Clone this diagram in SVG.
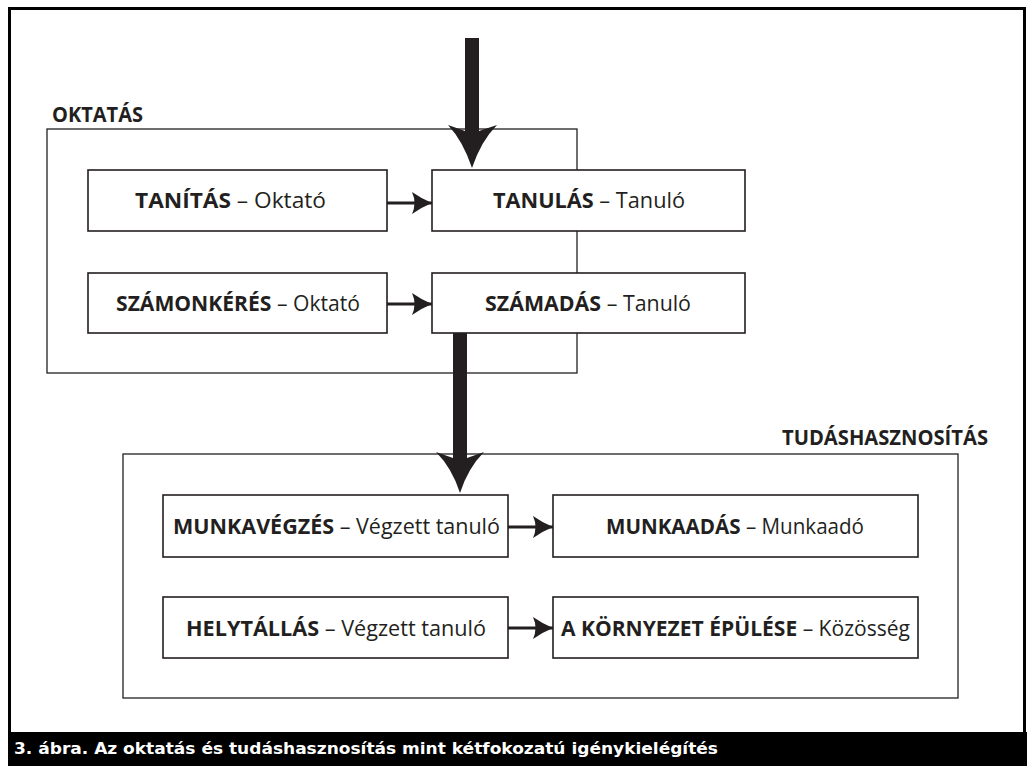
<svg xmlns="http://www.w3.org/2000/svg" width="1027" height="766" viewBox="0 0 1027 766">
<defs>
<style>
.frame{fill:none;stroke:#000;stroke-width:3}
.group{fill:none;stroke:#231f20;stroke-width:1.3}
.box{fill:#fff;stroke:#231f20;stroke-width:1.6}
.lbl{font-family:"Open Sans","Liberation Sans",sans-serif;font-size:21px;fill:#231f20}
.b{font-weight:bold}
.title{font-family:"Open Sans","Liberation Sans",sans-serif;font-size:22px;font-weight:bold;fill:#231f20}
.cap{font-family:"DejaVu Sans Condensed","DejaVu Sans",sans-serif;font-size:16px;font-weight:bold;fill:#fff}
.conn{stroke:#231f20;stroke-width:3;fill:none}
.big{fill:#231f20;stroke:none}
</style>
<marker id="ah" markerUnits="userSpaceOnUse" markerWidth="22" markerHeight="22" refX="20" refY="11" orient="auto" viewBox="0 0 22 22">
<path d="M0,0 Q10,7 20,11 Q10,15 0,22 Q5,11 0,0 Z" fill="#231f20"/>
</marker>
</defs>
<rect x="0" y="0" width="1027" height="766" fill="#fff"/>
<rect class="frame" x="9.5" y="8.5" width="1015" height="730"/>
<rect x="8" y="732" width="1019" height="34" fill="#000"/>
<text class="cap" x="14" y="754" textLength="704" lengthAdjust="spacingAndGlyphs">3. ábra. Az oktatás és tudáshasznosítás mint kétfokozatú igénykielégítés</text>

<g id="oktatas">
<rect class="group" x="47" y="129" width="530" height="244"/>
<text class="title" x="52" y="122" textLength="91" lengthAdjust="spacingAndGlyphs">OKTATÁS</text>
</g>
<g id="tudashasznositas">
<rect class="group" x="123" y="454" width="835" height="244"/>
<text class="title" x="782" y="445" textLength="206" lengthAdjust="spacingAndGlyphs">TUDÁSHASZNOSÍTÁS</text>
</g>

<g id="tanitas">
<rect class="box" x="88" y="170" width="299" height="61"/>
<text class="lbl" x="135" y="208" textLength="191" lengthAdjust="spacingAndGlyphs"><tspan class="b">TANÍTÁS</tspan> – Oktató</text>
</g>
<g id="tanulas">
<rect class="box" x="432" y="170" width="313" height="61"/>
<text class="lbl" x="493" y="208" textLength="192" lengthAdjust="spacingAndGlyphs"><tspan class="b">TANULÁS</tspan> – Tanuló</text>
</g>
<g id="szamonkeres">
<rect class="box" x="88" y="273" width="299" height="60"/>
<text class="lbl" x="116" y="311" textLength="244" lengthAdjust="spacingAndGlyphs"><tspan class="b">SZÁMONKÉRÉS</tspan> – Oktató</text>
</g>
<g id="szamadas">
<rect class="box" x="432" y="273" width="313" height="60"/>
<text class="lbl" x="485" y="311" textLength="206" lengthAdjust="spacingAndGlyphs"><tspan class="b">SZÁMADÁS</tspan> – Tanuló</text>
</g>
<g id="munkavegzes">
<rect class="box" x="163" y="495" width="345" height="62"/>
<text class="lbl" x="173" y="534" textLength="327" lengthAdjust="spacingAndGlyphs"><tspan class="b">MUNKAVÉGZÉS</tspan> – Végzett tanuló</text>
</g>
<g id="munkaadas">
<rect class="box" x="553" y="495" width="365" height="62"/>
<text class="lbl" x="606" y="534" textLength="258" lengthAdjust="spacingAndGlyphs"><tspan class="b">MUNKAADÁS</tspan> – Munkaadó</text>
</g>
<g id="helytallas">
<rect class="box" x="163" y="597" width="345" height="61"/>
<text class="lbl" x="186" y="636" textLength="300" lengthAdjust="spacingAndGlyphs"><tspan class="b">HELYTÁLLÁS</tspan> – Végzett tanuló</text>
</g>
<g id="kornyezet">
<rect class="box" x="553" y="597" width="365" height="61"/>
<text class="lbl" x="561" y="636" textLength="349" lengthAdjust="spacingAndGlyphs"><tspan class="b">A KÖRNYEZET ÉPÜLÉSE</tspan> – Közösség</text>
</g>

<g id="connectors">
<path class="big" d="M465,38 H479 V131 L497,125 Q481,141 472,168 Q463,141 448,125 L465,131 Z"/>
<path class="big" d="M453,333 H467 V458 L484,452 Q468,468 460,493 Q452,468 436,452 L453,458 Z"/>
<line class="conn" x1="387" y1="203" x2="432" y2="203" marker-end="url(#ah)"/>
<line class="conn" x1="387" y1="304" x2="432" y2="304" marker-end="url(#ah)"/>
<line class="conn" x1="508" y1="527" x2="553" y2="527" marker-end="url(#ah)"/>
<line class="conn" x1="508" y1="628" x2="553" y2="628" marker-end="url(#ah)"/>
</g>
</svg>
